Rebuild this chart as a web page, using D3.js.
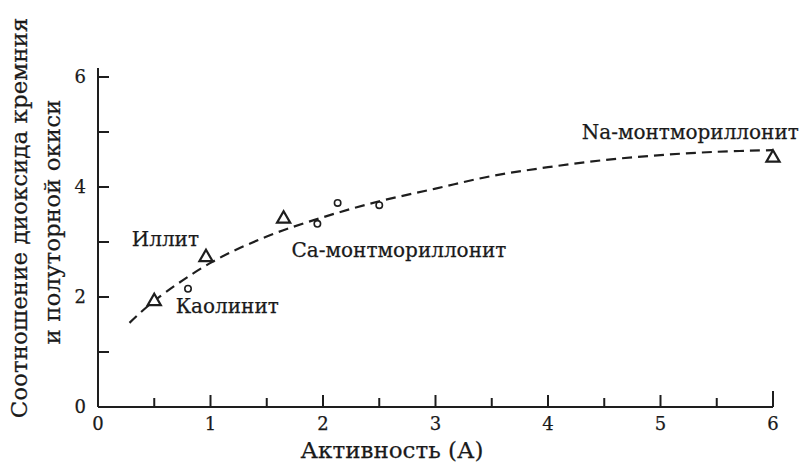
<!DOCTYPE html>
<html>
<head>
<meta charset="utf-8">
<script src="https://cdn.jsdelivr.net/npm/d3@7"></script>
<style>
  body { margin: 0; background: #fff; }
  text { font-family: "DejaVu Serif", serif; fill: #1a1a1a; stroke: #1a1a1a; stroke-width: 0.25px; }
</style>
</head>
<body>
<svg id="chart"></svg>
<script>
// triangles (clay minerals)
const triX = [0.5, 0.96, 1.65, 6.0];
const triY = [1.92, 2.72, 3.42, 4.53];
// small circles
const dotX = [0.8, 1.95, 2.13, 2.5];
const dotY = [2.15, 3.33, 3.71, 3.67];
// dashed trend curve
const curveX = [0.28, 0.5, 1, 1.5, 2, 2.5, 3, 3.5, 4, 4.5, 5, 5.5, 6];
const curveY = [1.53, 1.93, 2.62, 3.1, 3.45, 3.74, 3.97, 4.2, 4.36, 4.49, 4.58, 4.64, 4.67];
// annotations
const labelText = ["Иллит", "Каолинит", "Ca-монтмориллонит", "Na-монтмориллонит"];
const labelX = [0.3, 0.69, 1.72, 4.3];
const labelY = [2.93, 1.71, 2.73, 4.88];

const xTicks = [0, 1, 2, 3, 4, 5, 6];
const yTicks = [0, 2, 4, 6];

const svg = d3.select("#chart")
  .attr("width", 802)
  .attr("height", 467);

const margin = { top: 77, right: 29, bottom: 60, left: 98 };
const width = 802 - margin.left - margin.right;
const height = 467 - margin.top - margin.bottom;

const x = d3.scaleLinear().domain([0, 6]).range([0, width]);
const y = d3.scaleLinear().domain([0, 6]).range([height, 0]);

const g = svg.append("g")
  .attr("transform", `translate(${margin.left},${margin.top})`);

const ink = "#1e1e1e";

// x axis: ticks point up, minor ticks at halves
const xAxis = g.append("g")
  .attr("transform", `translate(0,${height})`);
xAxis.append("line")
  .attr("x1", 0).attr("x2", x(6))
  .attr("stroke", ink).attr("stroke-width", 2);
xAxis.selectAll(".xminor")
  .data(d3.range(0.5, 6, 1))
  .join("line")
  .attr("x1", d => x(d)).attr("x2", d => x(d))
  .attr("y1", 0).attr("y2", -9)
  .attr("stroke", ink).attr("stroke-width", 2);
xAxis.selectAll(".xmajor")
  .data(xTicks)
  .join("line")
  .attr("x1", d => x(d)).attr("x2", d => x(d))
  .attr("y1", 0).attr("y2", d => d === 6 ? -16 : -12)
  .attr("stroke", ink).attr("stroke-width", 2);
xAxis.selectAll(".xlab")
  .data(xTicks)
  .join("text")
  .attr("x", d => x(d))
  .attr("y", 23)
  .attr("text-anchor", "middle")
  .style("font-size", "18px")
  .text(d => d);

// y axis: ticks point right at every integer
const yAxis = g.append("g");
yAxis.append("line")
  .attr("y1", y(0)).attr("y2", y(6) - 9)
  .attr("stroke", ink).attr("stroke-width", 2);
yAxis.selectAll(".ytick")
  .data(d3.range(1, 7))
  .join("line")
  .attr("x1", 0).attr("x2", 11)
  .attr("y1", d => y(d)).attr("y2", d => y(d))
  .attr("stroke", ink).attr("stroke-width", 2);
yAxis.selectAll(".ylab")
  .data(yTicks)
  .join("text")
  .attr("x", -12)
  .attr("y", d => y(d))
  .attr("dy", "0.35em")
  .attr("text-anchor", "end")
  .style("font-size", "18px")
  .text(d => d);

// dashed curve
const line = d3.line()
  .x(d => x(d[0]))
  .y(d => y(d[1]))
  .curve(d3.curveCatmullRom);
g.append("path")
  .datum(d3.zip(curveX, curveY))
  .attr("d", line)
  .attr("fill", "none")
  .attr("stroke", ink)
  .attr("stroke-width", 2.2)
  .attr("stroke-dasharray", "10,6");

// triangles
const tri = d3.symbol().type(d3.symbolTriangle).size(75);
g.selectAll(".tri")
  .data(d3.zip(triX, triY))
  .join("path")
  .attr("d", tri)
  .attr("transform", d => `translate(${x(d[0])},${y(d[1])})`)
  .attr("fill", "#fff")
  .attr("stroke", ink)
  .attr("stroke-width", 2.2);

// circles
g.selectAll(".dot")
  .data(d3.zip(dotX, dotY))
  .join("circle")
  .attr("cx", d => x(d[0]))
  .attr("cy", d => y(d[1]))
  .attr("r", 3.2)
  .attr("fill", "#fff")
  .attr("stroke", ink)
  .attr("stroke-width", 1.6);

// annotations
g.selectAll(".ann")
  .data(labelText)
  .join("text")
  .attr("x", (d, i) => x(labelX[i]))
  .attr("y", (d, i) => y(labelY[i]))
  .style("font-size", "20px")
  .text(d => d);

// axis titles
svg.append("text")
  .attr("x", 392)
  .attr("y", 458)
  .attr("text-anchor", "middle")
  .style("font-size", "23px")
  .text("Активность (А)");

svg.append("text")
  .attr("transform", "translate(27,218) rotate(-90)")
  .attr("text-anchor", "middle")
  .style("font-size", "23px")
  .text("Соотношение диоксида кремния");

svg.append("text")
  .attr("transform", "translate(60,222) rotate(-90)")
  .attr("text-anchor", "middle")
  .style("font-size", "23px")
  .text("и полуторной окиси");
</script>
</body>
</html>
